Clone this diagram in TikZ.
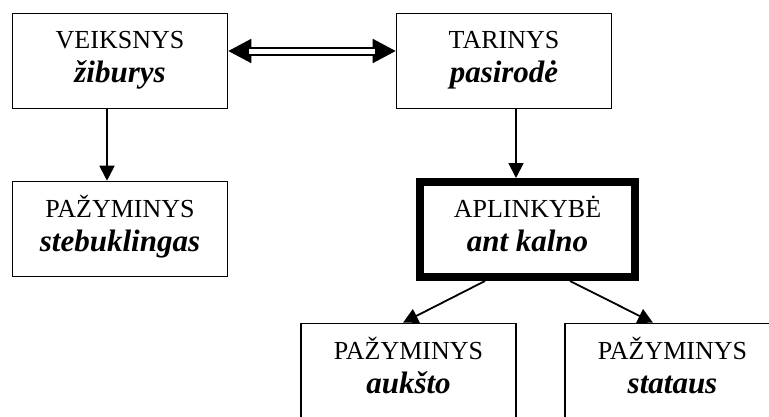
\documentclass[tikz,border=0pt]{standalone}
\usepackage{fontspec}
\setmainfont{Liberation Serif}
\usetikzlibrary{arrows.meta}

% struts fixing the two baselines of every box
\newcommand{\topstrut}{\rule{0pt}{20pt}}
\newcommand{\botstrut}{\rule[-12pt]{0pt}{12pt}}
\newcommand{\boxtext}[2]{\topstrut #1\\
  {\fontsize{31}{34}\selectfont\bfseries\itshape #2}\botstrut}

\tikzset{
  wordbox/.style={draw=black, line width=1.6pt, minimum width=215pt,
    minimum height=95pt, inner sep=0pt, align=center, fill=white,
    font=\fontsize{26}{34}\selectfont},
  mainbox/.style={wordbox, line width=8pt},
  link/.style={line width=1.8pt, -{Triangle[length=15pt,width=15pt]}},
  bothtip/.style={line width=1.8pt,
    {Triangle[length=23pt,width=24pt]}-{Triangle[length=23pt,width=24pt]}},
  dbl/.style={double=white, double distance=5pt, line width=2pt},
}

\begin{document}
\begin{tikzpicture}[x=1pt, y=-1pt]
  \useasboundingbox (0,0) rectangle (769,416);
  \clip (0,0) rectangle (769,416);

  % sentence parts
  \node[wordbox] (v)  at (120,61)    {\boxtext{VEIKSNYS}{žiburys}};
  \node[wordbox] (t)  at (504,61)    {\boxtext{TARINYS}{pasirodė}};
  \node[wordbox] (p1) at (120,229)   {\boxtext{PAŽYMINYS}{stebuklingas}};
  \node[mainbox] (a)  at (527.5,229.5) {\boxtext{APLINKYBĖ}{ant kalno}};
  \node[wordbox] (p2) at (408.5,371) {\boxtext{PAŽYMINYS}{aukšto}};
  \node[wordbox] (p3) at (672.5,371) {\boxtext{PAŽYMINYS}{stataus}};

  % subject -- predicate: double line with heads at both ends
  \draw[bothtip] ([yshift=10pt]v.east) -- ([yshift=10pt]t.west);
  \draw[dbl, shorten <=21pt, shorten >=21pt]
    ([yshift=10pt]v.east) -- ([yshift=10pt]t.west);

  % dependent words
  \draw[link] ([xshift=-13pt]v.south) -- ([xshift=-13pt]p1.north);
  \draw[link] ([xshift=12pt]t.south) -- ([xshift=12pt]t.south |- a.north);
  \draw[link] ([xshift=-42.5pt]a.south) -- ([xshift=-5.5pt]p2.north);
  \draw[link] ([xshift=42.5pt]a.south) -- ([xshift=-19.5pt]p3.north);
\end{tikzpicture}
\end{document}
